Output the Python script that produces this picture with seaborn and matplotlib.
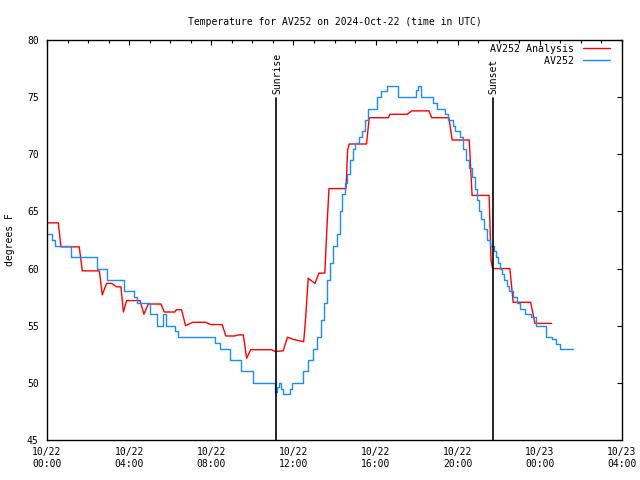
import pandas as pd
import matplotlib
matplotlib.use('Agg')
import matplotlib.pyplot as plt
import seaborn as sns

# AV252 observed (hours since 10/22 00:00 UTC, degrees F), step values
obs_hours = [0.0, 0.25, 0.38, 1.15, 2.45, 2.92, 3.75, 4.25, 4.4, 5.0, 5.35, 5.65, 5.8,
             6.25, 6.4, 8.2, 8.4, 8.9, 9.45, 10.05, 11.1, 11.2, 11.3, 11.4, 11.5, 11.6,
             11.85, 11.95, 12.1, 12.45, 12.7, 12.95, 13.15, 13.35, 13.5, 13.65, 13.8,
             13.95, 14.1, 14.25, 14.35, 14.5, 14.6, 14.75, 14.9, 15.0, 15.2, 15.35, 15.5,
             15.65, 16.05, 16.25, 16.55, 17.1, 17.95, 18.05, 18.2, 18.8, 19.0, 19.4,
             19.55, 19.75, 19.85, 20.1, 20.25, 20.4, 20.55, 20.7, 20.85, 20.95, 21.05,
             21.15, 21.3, 21.45, 21.55, 21.75, 21.85, 21.95, 22.05, 22.15, 22.25, 22.4,
             22.5, 22.7, 22.9, 23.05, 23.3, 23.55, 23.8, 24.3, 24.6, 24.8, 25.0, 25.6]
obs_temp = [63, 62.5, 62, 61, 60, 59, 58, 57.5, 57, 56, 55, 56, 55,
            54.5, 54, 53.5, 53, 52, 51, 50, 49.2, 49.6, 50, 49.5, 49, 49,
            49.5, 50, 50, 51, 52, 53, 54, 55.5, 57, 59, 60.5,
            62, 63, 65, 66.5, 67.5, 68.3, 69.5, 70.5, 71, 71.5, 72, 73,
            74, 75, 75.5, 76, 75, 75.6, 76, 75, 74.5, 74, 73.5,
            73, 72.5, 72, 71.5, 70.5, 69.5, 68.8, 68, 67, 66, 65,
            64.3, 63.5, 62.5, 62, 61.5, 61, 60.5, 60, 59.5, 59, 58.5,
            58, 57.5, 57, 56.5, 56, 55.8, 55, 54, 53.8, 53.4, 53, 53]

# AV252 Analysis
ana_hours = [0.0, 0.55, 0.68, 1.57, 1.72, 2.55, 2.69, 2.9, 3.15, 3.39, 3.6, 3.72, 3.88,
             4.53, 4.72, 4.93, 5.55, 5.71, 6.23, 6.3, 6.55, 6.75, 7.09, 7.72, 7.98,
             8.53, 8.71, 9.12, 9.35, 9.56, 9.72, 9.92, 10.94, 11.1, 11.5, 11.71, 12.0,
             12.5, 12.6, 12.72, 13.05, 13.24, 13.53, 13.62, 13.73, 14.56, 14.64, 14.72,
             15.56, 15.69, 16.62, 16.7, 17.54, 17.76, 18.6, 18.73, 19.57, 19.73, 20.56,
             20.7, 21.53, 21.62, 21.7, 22.54, 22.7, 23.55, 23.76, 24.57]
ana_temp = [64, 64, 61.9, 61.9, 59.8, 59.8, 57.7, 58.7, 58.7, 58.4, 58.4, 56.2, 57.2,
            57.2, 56.0, 56.9, 56.9, 56.2, 56.2, 56.4, 56.4, 55.0, 55.3, 55.3, 55.1,
            55.1, 54.1, 54.1, 54.2, 54.2, 52.15, 52.9, 52.9, 52.75, 52.8, 54.0, 53.8,
            53.6, 55.8, 59.15, 58.7, 59.6, 59.6, 63.2, 67.0, 67.0, 70.4, 70.9,
            70.9, 73.2, 73.2, 73.5, 73.5, 73.8, 73.8, 73.2, 73.2, 71.25, 71.25,
            66.4, 66.4, 60.75, 60.0, 60.0, 57.05, 57.05, 55.2, 55.2]

sunrise = 11.15
sunset = 21.71
tick_hours = [0, 4, 8, 12, 16, 20, 24, 28]
tick_labels = ['10/22\n00:00', '10/22\n04:00', '10/22\n08:00', '10/22\n12:00',
               '10/22\n16:00', '10/22\n20:00', '10/23\n00:00', '10/23\n04:00']

df_obs = pd.DataFrame({'hour': obs_hours, 'temp': obs_temp})
df_ana = pd.DataFrame({'hour': ana_hours, 'temp': ana_temp})

sns.set_style('white')
plt.rcParams['font.family'] = ['DejaVu Sans Mono']
plt.rcParams['font.size'] = 7
plt.rcParams['text.color'] = 'black'
plt.rcParams['axes.labelcolor'] = 'black'
plt.rcParams['xtick.color'] = 'black'
plt.rcParams['ytick.color'] = 'black'

fig = plt.figure(figsize=(6.4, 4.8), dpi=100)
ax = fig.add_axes([47/640, 40/480, 575/640, 400/480])

sns.lineplot(data=df_ana, x='hour', y='temp', color='#ff0000', lw=1,
             estimator=None, sort=False, ax=ax, label='AV252 Analysis')
sns.lineplot(data=df_obs, x='hour', y='temp', color='#1a8cff', lw=1,
             estimator=None, sort=False, drawstyle='steps-post', ax=ax,
             label='         AV252')

# sunrise / sunset markers
for h, name in [(sunrise, 'Sunrise'), (sunset, 'Sunset')]:
    ax.plot([h, h], [45, 74.9], color='black', lw=1.2)
    ax.text(h + 0.05, 75.3, name, rotation=90, ha='center', va='bottom', fontsize=7)

ax.set_xlim(0, 28)
ax.set_ylim(45, 80)
ax.set_xticks(tick_hours)
ax.set_xticklabels(tick_labels)
ax.set_xticks(range(0, 29), minor=True)
ax.set_yticks(range(45, 81, 5))
ax.tick_params(which='major', direction='in', length=3.5, width=0.8,
               top=True, right=True, color='black', labelcolor='black')
ax.tick_params(which='minor', direction='in', length=1.8, width=0.8,
               top=True, right=True, color='black')
ax.tick_params(axis='x', pad=5)
ax.tick_params(axis='y', pad=6)
for s in ax.spines.values():
    s.set_color('black')
    s.set_linewidth(1)

ax.set_xlabel('')
ax.set_ylabel('degrees F', color='black')
ax.yaxis.set_label_coords(-0.056, 0.5)
ax.set_title('Temperature for AV252 on 2024-Oct-22 (time in UTC)', fontsize=7, pad=11,
             color='black')

leg = ax.legend(loc='upper right', bbox_to_anchor=(0.979, 0.99), frameon=False,
                markerfirst=False, handlelength=2.7, handletextpad=0.9, labelspacing=0.2,
                borderaxespad=0, borderpad=0,
                prop={'family': 'DejaVu Sans Mono', 'size': 7.2})
for t in leg.get_texts():
    t.set_color('black')

fig.savefig('out.png', dpi=100)
